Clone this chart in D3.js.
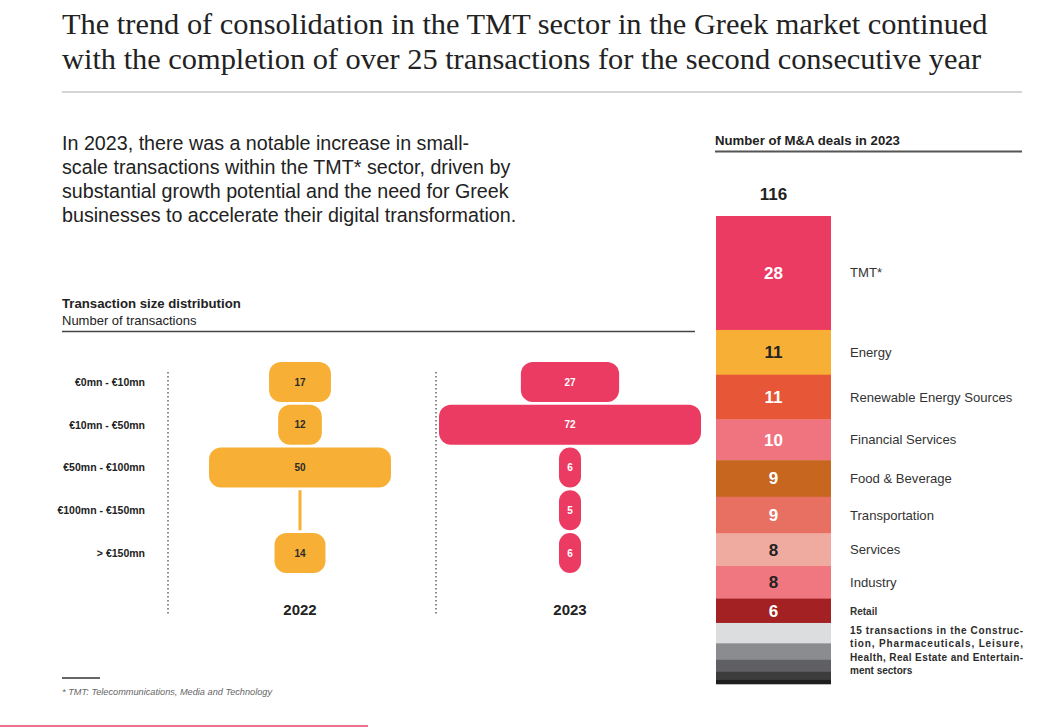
<!DOCTYPE html>
<html><head><meta charset="utf-8">
<script src="https://cdn.jsdelivr.net/npm/d3@7"></script>
<style>body{margin:0;background:#fff;} svg{display:block;}</style>
</head><body><svg id="c" width="1063" height="727"></svg>
<script>
// ---------- data ----------
const titleLines = [
  "The trend of consolidation in the TMT sector in the Greek market continued",
  "with the completion of over 25 transactions for the second consecutive year"
];
const introLines = [
  "In 2023, there was a notable increase in small-",
  "scale transactions within the TMT* sector, driven by",
  "substantial growth potential and the need for Greek",
  "businesses to accelerate their digital transformation."
];
const sizeBuckets = ["€0mn - €10mn", "€10mn - €50mn", "€50mn - €100mn", "€100mn - €150mn", "> €150mn"];
const years = ["2022", "2023"];
const deals2022 = [17, 12, 50, 0, 14];
const deals2023 = [27, 72, 6, 5, 6];
const sectors = ["TMT*", "Energy", "Renewable Energy Sources", "Financial Services", "Food & Beverage", "Transportation", "Services", "Industry", "Retail"];
const sectorDeals = [28, 11, 11, 10, 9, 9, 8, 8, 6];
const otherDeals = [5, 4, 3, 2, 1];
const totalDeals = 116;
const otherNote = ["15 transactions in the Construc-", "tion, Pharmaceuticals, Leisure,", "Health, Real Estate and Entertain-", "ment sectors"];
const footnote = "* TMT: Telecommunications, Media and Technology";

// ---------- styles ----------
const yearColors = ["#F8AF35", "#EC3B63"];
const yearTextColors = ["#2b2b2b", "#ffffff"];
const sectorColors = ["#EC3B63", "#F8AF35", "#E65637", "#F07480", "#C7661F", "#E87062", "#F0ABA1", "#F07780", "#A32023"];
const sectorTextColors = ["#fff", "#222", "#fff", "#fff", "#fff", "#fff", "#222", "#222", "#fff"];
const otherColors = ["#DCDDDF", "#8B8C90", "#606064", "#3C3C3D", "#1E1E1E"];
const SANS = "'Liberation Sans', Arial, sans-serif";
const SERIF = "'Liberation Serif', 'Times New Roman', serif";

const svg = d3.select("#c");

// ---------- title ----------
const tl = svg.append("g").selectAll("text").data(titleLines).join("text")
  .attr("x", 62).attr("y", (d, i) => 34 + i * 35)
  .attr("font-family", SERIF).attr("font-size", 28).attr("fill", "#222")
  .text(d => d);
const w0 = tl.nodes()[0].getComputedTextLength();
tl.attr("font-size", 28 * 926 / w0);
svg.append("line").attr("x1", 62).attr("x2", 1022).attr("y1", 92).attr("y2", 92)
  .attr("stroke", "#d5d5d5").attr("stroke-width", 2);

// ---------- intro ----------
svg.append("g").selectAll("text").data(introLines).join("text")
  .attr("x", 62).attr("y", (d, i) => 150 + i * 24)
  .attr("font-family", SANS).attr("font-size", 19.7).attr("fill", "#222")
  .text(d => d);

// ---------- left chart headers ----------
svg.append("text").attr("x", 62).attr("y", 308).attr("font-family", SANS)
  .attr("font-size", 13.2).attr("font-weight", "bold").attr("fill", "#222")
  .text("Transaction size distribution");
svg.append("text").attr("x", 62).attr("y", 325).attr("font-family", SANS)
  .attr("font-size", 13).attr("fill", "#222").text("Number of transactions");
svg.append("line").attr("x1", 62).attr("x2", 695).attr("y1", 331.5).attr("y2", 331.5)
  .attr("stroke", "#444").attr("stroke-width", 1.5);

// ---------- left chart ----------
const y = d3.scaleBand().domain(sizeBuckets).range([362, 573]).paddingInner(0.064);
const w = d3.scaleLinear().domain([0, 72]).range([0, 262]);
const xCenter = d3.scalePoint().domain(years).range([300, 570]);

svg.append("g").selectAll("text").data(sizeBuckets).join("text")
  .attr("x", 145).attr("y", d => y(d) + y.bandwidth() / 2 + 3.8)
  .attr("text-anchor", "end").attr("font-family", SANS).attr("font-size", 10.5)
  .attr("font-weight", "bold").attr("fill", "#222").text(d => d);

[168, 436].forEach(x => {
  svg.append("line").attr("x1", x).attr("x2", x).attr("y1", 372).attr("y2", 616)
    .attr("stroke", "#8a8a8a").attr("stroke-width", 2).attr("stroke-dasharray", "1.6,2.4");
});

[deals2022, deals2023].forEach((vals, yi) => {
  const yr = years[yi];
  const cx = xCenter(yr);
  const g = svg.append("g");
  const data = vals.map((v, i) => ({ v, b: sizeBuckets[i] }));
  const bw = d => d.v === 0 ? 3 : Math.max(22, w(d.v));
  g.selectAll("rect").data(data).join("rect")
    .attr("x", d => cx - bw(d) / 2)
    .attr("y", d => y(d.b))
    .attr("width", bw)
    .attr("height", y.bandwidth())
    .attr("rx", d => d.v === 0 ? 0 : Math.min(12, bw(d) / 2))
    .attr("fill", yearColors[yi]);
  g.selectAll("text").data(data.filter(d => d.v > 0)).join("text")
    .attr("x", cx).attr("y", d => y(d.b) + y.bandwidth() / 2 + 3.7)
    .attr("text-anchor", "middle").attr("font-family", SANS).attr("font-size", 10)
    .attr("font-weight", "bold").attr("fill", yearTextColors[yi]).text(d => d.v);
  svg.append("text").attr("x", cx).attr("y", 615).attr("text-anchor", "middle")
    .attr("font-family", SANS).attr("font-size", 15).attr("font-weight", "bold")
    .attr("fill", "#222").text(yr);
});

// ---------- right chart ----------
svg.append("text").attr("x", 715).attr("y", 145).attr("font-family", SANS)
  .attr("font-size", 13.2).attr("font-weight", "bold").attr("fill", "#222")
  .text("Number of M&A deals in 2023");
svg.append("line").attr("x1", 715).attr("x2", 1022).attr("y1", 151.5).attr("y2", 151.5)
  .attr("stroke", "#555").attr("stroke-width", 2);

const allVals = sectorDeals.concat(otherDeals);
const segs = [];
let acc = 0;
allVals.forEach((v, i) => { segs.push({ v, i, y0: acc, y1: acc + v }); acc += v; });
const ys = d3.scaleLinear().domain([0, acc]).range([216, 684]);
const bx0 = 716, bW = 115;

svg.append("text").attr("x", bx0 + bW / 2).attr("y", 200).attr("text-anchor", "middle")
  .attr("font-family", SANS).attr("font-size", 17).attr("font-weight", "bold")
  .attr("fill", "#222").text(totalDeals);

const sg = svg.append("g");
sg.selectAll("rect").data(segs).join("rect")
  .attr("x", bx0).attr("width", bW)
  .attr("y", d => ys(d.y0)).attr("height", d => ys(d.y1) - ys(d.y0) + 0.3)
  .attr("fill", d => d.i < sectorDeals.length ? sectorColors[d.i] : otherColors[d.i - sectorDeals.length]);
const named = segs.filter(d => d.i < sectorDeals.length);
sg.selectAll("text.v").data(named).join("text").attr("class", "v")
  .attr("x", bx0 + bW / 2).attr("y", d => (ys(d.y0) + ys(d.y1)) / 2 + 6)
  .attr("text-anchor", "middle").attr("font-family", SANS).attr("font-size", 17)
  .attr("font-weight", "bold").attr("fill", d => sectorTextColors[d.i]).text(d => d.v);
sg.selectAll("text.l").data(named).join("text").attr("class", "l")
  .attr("x", 850).attr("y", d => (ys(d.y0) + ys(d.y1)) / 2 + 4.5)
  .attr("font-family", SANS)
  .attr("font-size", d => d.i === sectorDeals.length - 1 ? 10 : 13.1)
  .attr("font-weight", d => d.i === sectorDeals.length - 1 ? "bold" : "normal")
  .attr("fill", "#333").text(d => sectors[d.i]);

const oy = ys(sectorDeals.reduce((a, b) => a + b, 0));
svg.append("g").selectAll("text").data(otherNote).join("text")
  .attr("x", 850).attr("y", (d, i) => oy + 11 + i * 13.3)
  .attr("font-family", SANS).attr("font-size", 10).attr("font-weight", "bold")
  .attr("fill", "#2b2b2b")
  .each(function (d, i) {
    if (i < otherNote.length - 1) d3.select(this).attr("textLength", 173).attr("lengthAdjust", "spacing");
  })
  .text(d => d);

// ---------- footnote ----------
svg.append("line").attr("x1", 62).attr("x2", 100).attr("y1", 678).attr("y2", 678)
  .attr("stroke", "#666").attr("stroke-width", 2);
svg.append("text").attr("x", 62).attr("y", 695).attr("font-family", SANS)
  .attr("font-size", 9.2).attr("font-style", "italic").attr("fill", "#666").text(footnote);
svg.append("line").attr("x1", 0).attr("x2", 368).attr("y1", 726).attr("y2", 726)
  .attr("stroke", "#E8426A").attr("stroke-width", 1.5);
</script></body></html>
